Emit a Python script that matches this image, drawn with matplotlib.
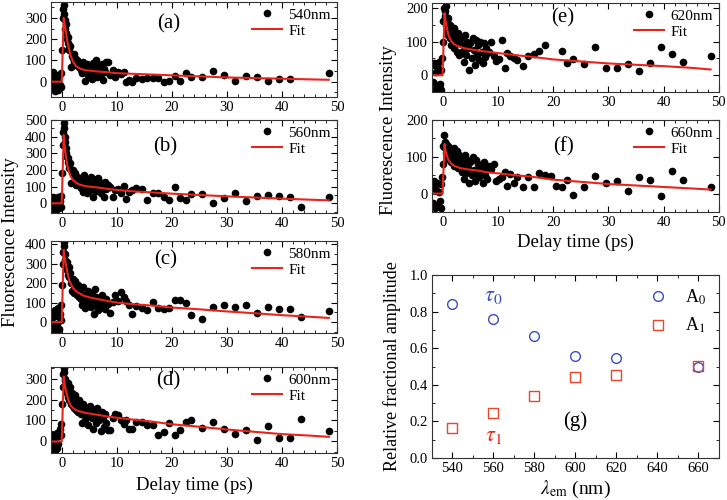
import numpy as np
import matplotlib
matplotlib.use('Agg')
import matplotlib.pyplot as plt
from matplotlib.ticker import MultipleLocator

plt.rcParams['font.family'] = ['Liberation Serif', 'DejaVu Serif']
plt.rcParams['mathtext.fontset'] = 'stix'

nan = np.nan

# delay times (ps), shared by all decay traces
t_early = [-1.9, -1.75, -1.6, -1.45, -1.3, -1.15, -1.0, -0.85, -0.7, -0.55, -0.4, -0.25, -0.1,
           0.0, 0.1, 0.2, 0.3, 0.4, 0.5, 0.6, 0.7, 0.8, 0.9, 1.0, 1.1, 1.2,
           1.35, 1.5, 1.65, 1.8, 1.95, 2.1, 2.25, 2.4, 2.55, 2.7, 2.85, 3.0,
           3.2, 3.4, 3.6, 3.8, 4.0, 4.2, 4.4, 4.6, 4.8, 5.0, 5.2, 5.4, 5.6, 5.8, 6.0,
           6.2, 6.4, 6.6, 6.8, 7.0, 7.2, 7.4, 7.6, 7.8, 8.0, 8.3]
t_late = [8.7, 9.2, 9.7, 10.2, 10.7, 11.2, 11.7, 12.2, 12.8, 13.5, 14.5, 15.5, 16.5, 17.5,
          18.5, 19.5, 20.5, 21.5, 22.5, 23.5, 25.5, 27.5, 29.5, 31.5, 33.5, 35.5, 37.5,
          39.5, 41.5, 43.5, 48.5]
t_fit = [-2, -0.05, 0.3, 0.5, 0.8, 1.0, 1.3, 1.6, 2.0, 2.5, 3.0, 4.0, 5.0, 6.5, 8, 10, 13, 16,
         20, 25, 30, 35, 40, 45, 48.5]

# 540 nm
a_early = [20, -30, 45, -10, -45, 30, -20, 10, -40, 25, -15, 40, -25,
           150, 300, 340, 360, 320, 290, 250, 270, 230, 200, 180, 210, 160,
           150, 170, 70, 120, 110, 130, 95, 110, 80, 100, 90, 70,
           80, 55, 40, 95, 60, 5, 45, 85, 30, 70, 50, 15, 90, 65, 40, 100, 20, 75, 55, 35,
           85, 10, 60, 45, 95, 95]
a_late = [30, 55, 20, 45, 35, 45, -3, 10, 0, 17, 15, 17, 17, 17, -3, 5, 28, 5, 40, 23, 23,
          52, 33, 5, 28, 20, 5, 11, 11, nan, 40]
a_fit = [0, 0, 300, 270, 220, 185, 150, 120, 95, 75, 65, 55, 52, 48, 45, 40, 37, 34, 30, 25,
         20, 17, 14, 11, 9]

# 560 nm
b_early = [30, -20, 40, -35, 10, -40, 25, -10, 35, -30, 15, -25, 45,
           180, 350, 430, 480, 450, 400, 370, 330, 300, 280, 250, 270, 230,
           210, 240, 120, 190, 200, 170, 130, 180, 110, 160, 140, 120,
           150, 90, 130, 70, 170, 100, 140, 60, 120, 80, 160, 95, 35, 110, 130, 75, 145,
           150, 100, 60, 120, 90, 40, 130, 85, 110]
b_late = [95, 40, 80, 85, 60, 105, 25, 70, 80, 90, 85, 20, 60, 60, 36, 20, 100, 30, 20, 56,
          56, 0, 30, 60, 16, 44, 50, 44, 36, -20, 40]
b_fit = [0, 0, 410, 340, 260, 220, 185, 160, 140, 125, 115, 105, 100, 95, 88, 80, 72, 66, 58,
         50, 42, 35, 28, 22, 18]

# 580 nm
c_early = [20, -40, 45, -20, 60, -45, 30, -10, 75, -35, 40, 10, 90,
           190, 300, 360, 410, 390, 350, 320, 300, 270, 310, 260, 240, 280,
           230, 250, 200, 160, 220, 190, 150, 210, 170, 140, 190, 130,
           160, 120, 90, 180, 140, 75, 130, 100, 160, 120, 80, 150, 110, 40, 170, 130, 90,
           60, 120, 100, 140, 80, 110, 70, 120, 95]
c_late = [47, 105, 140, 110, 155, 130, 107, 90, 44, 81, 73, 61, 105, 73, 68, 73, 112, 112, 98,
          36, 17, 76, 90, 76, 90, 47, 76, 68, 68, 27, 56]
c_fit = [0, 0, 370, 330, 280, 250, 215, 195, 175, 160, 150, 135, 127, 118, 110, 100, 92, 86,
         75, 66, 55, 46, 36, 28, 22]

# 600 nm
d_early = [10, -40, 30, -20, -45, 20, -30, 40, -10, 25, 60, 30, 85,
           180, 260, 320, 350, 330, 290, 300, 250, 270, 230, 280, 210, 240,
           200, 260, 180, 230, 170, 210, 160, 220, 150, 190, 140, 200,
           170, 130, 90, 180, 150, 100, 160, 120, 80, 170, 140, 110, 60, 150, 130, 90, 160,
           120, 100, 50, 140, 110, 70, 130, 90, 55]
d_late = [53, 110, 132, 124, 100, 85, 100, 61, 61, 93, 93, 77, 77, 33, 45, 88, 29, 57, 93, 104,
          64, 91, 61, 37, 57, 5, 73, 16, 18, 105, 49]
d_fit = [0, 0, 310, 270, 230, 210, 185, 170, 160, 150, 145, 138, 133, 127, 120, 113, 104, 96,
         82, 70, 57, 46, 35, 28, 22]

# 620 nm
e_early = [30, -20, 35, -40, 10, -30, 25, -35, 40, -25, 15, -45, 50,
           100, 160, 200, 190, 175, 205, 150, 160, 130, 170, 120, 140, 110,
           150, 90, 130, 110, 140, 80, 120, 100, 70, 125, 95, 60,
           110, 70, 90, 40, 120, 60, 100, 80, 15, 95, 50, 110, 75, 30, 105, 60, 90,
           45, 100, 70, 35, 95, 55, 80, 65, 70]
e_late = [100, 56, 42, 47, 105, 22, 66, 56, 51, 45, 27, 56, 63, 71, 90, nan, nan, 73, 37, 49,
          32, 83, 20, 22, 32, 13, 37, 83, 64, 39, 56]
e_fit = [0, 0, 185, 160, 135, 120, 108, 100, 93, 88, 85, 80, 77, 73, 70, 66, 60, 55, 47, 41,
         35, 31, 27, 22, 17]

# 660 nm
f_early = [20, -25, 35, -40, 10, -30, 30, -35, 5, -20, 25, -40, 45,
           80, 130, 160, 140, 125, 135, 110, 120, 100, 130, 95, 115, 105,
           120, 85, 110, 95, 125, 75, 100, 90, 115, 70, 105, 80,
           95, 60, 80, 40, 105, 55, 90, 70, 30, 85, 50, 100, 65, 35, 90, 55, 80,
           45, 75, 60, 30, 85, 50, 70, 40, 75]
f_late = [67, 81, 35, 39, 45, 58, 21, 53, 30, 45, 18, 44, 18, 55, 50, 49, 21, 18, 36, -3, 18,
          49, 28, 33, 8, 46, 36, -6, 61, 36, 19]
f_fit = [0, 0, 135, 115, 100, 92, 85, 80, 76, 73, 70, 67, 65, 62, 58, 55, 50, 46, 38, 32, 26,
         22, 18, 14, 11]

# panel (g): relative fractional amplitudes
wl = [540, 560, 580, 600, 620, 660]
A0 = [0.84, 0.76, 0.665, 0.56, 0.548, 0.497]
A1 = [0.165, 0.245, 0.34, 0.443, 0.455, 0.505]

RED = '#e8241c'


def style_axes(ax, ymajor, yminor, xmajor=10, xminor=2):
    ax.xaxis.set_major_locator(MultipleLocator(xmajor))
    ax.xaxis.set_minor_locator(MultipleLocator(xminor))
    ax.yaxis.set_major_locator(MultipleLocator(ymajor))
    ax.yaxis.set_minor_locator(MultipleLocator(yminor))
    ax.tick_params(which='both', direction='in', top=True, right=True, labelsize=10.5, pad=3)
    ax.tick_params(which='major', length=4)
    ax.tick_params(which='minor', length=2)
    for s in ax.spines.values():
        s.set_linewidth(0.8)
        s.set_color('#333333')


def decay_panel(rect, early, late, fit, name, tag, ylim, tag_pos):
    ax = fig.add_axes(rect)
    tt = t_early + t_late
    yy = early + late
    ax.plot(tt, yy, 'o', color='black', ms=4.5, mec='black', label=name)
    ax.plot(t_fit, fit, '-', color=RED, lw=1.5, label='Fit')
    ax.set_xlim(-2, 50)
    ax.set_ylim(*ylim)
    style_axes(ax, 100, 50)
    ax.text(tag_pos[0], tag_pos[1], tag, transform=ax.transAxes, fontsize=15,
            ha='center', va='center')
    ax.legend(loc='upper right', frameon=False, fontsize=11, handlelength=2.0,
              handletextpad=0.4, borderaxespad=0.2, labelspacing=0.15, borderpad=0.2)
    return ax


fig = plt.figure(figsize=(7.27, 5.0), dpi=100)

# left column
decay_panel([0.0702, 0.806, 0.3934, 0.19], a_early, a_late, a_fit, '540nm', '(a)', (-72, 375), (0.41, 0.77))
decay_panel([0.0702, 0.574, 0.3934, 0.186], b_early, b_late, b_fit, '560nm', '(b)', (-58, 500), (0.40, 0.71))
decay_panel([0.0702, 0.334, 0.3934, 0.184], c_early, c_late, c_fit, '580nm', '(c)', (-55, 415), (0.40, 0.79))
ax_d = decay_panel([0.0702, 0.094, 0.3934, 0.172], d_early, d_late, d_fit, '600nm', '(d)', (-55, 355), (0.41, 0.84))
ax_d.set_xlabel('Delay time (ps)', fontsize=13.5, labelpad=5)
fig.text(0.014, 0.516, 'Fluorescence Intensity', rotation=90, fontsize=13.5, ha='center', va='center')

# right column
decay_panel([0.594, 0.816, 0.3948, 0.178], e_early, e_late, e_fit, '620nm', '(e)', (-50, 215), (0.455, 0.83))
ax_f = decay_panel([0.594, 0.576, 0.3948, 0.184], f_early, f_late, f_fit, '660nm', '(f)', (-50, 200), (0.46, 0.71))
ax_f.set_xlabel('Delay time (ps)', fontsize=13.5, labelpad=3)
fig.text(0.534, 0.74, 'Fluorescence Intensity', rotation=90, fontsize=13.5, ha='center', va='center')

# panel (g)
ax_g = fig.add_axes([0.594, 0.084, 0.3948, 0.366])
ax_g.plot(wl, A0, 'o', mfc='none', mec='#3a4fbf', ms=7, mew=1.0, label='A$_0$')
ax_g.plot(wl, A1, 's', mfc='none', mec='#e8452c', ms=7, mew=1.0, label='A$_1$')
ax_g.set_xlim(530, 670)
ax_g.set_ylim(0, 1.0)
style_axes(ax_g, 0.2, 0.1, xmajor=20, xminor=10)
ax_g.yaxis.set_major_formatter(matplotlib.ticker.FormatStrFormatter('%.1f'))
ax_g.text(560, 0.88, r'$\tau_0$', color='#3a4fbf', fontsize=16, ha='center', va='center')
ax_g.text(560, 0.115, r'$\tau_1$', color='#e8241c', fontsize=16, ha='center', va='center')
ax_g.text(600, 0.2, '(g)', fontsize=15, ha='center', va='center')
ax_g.legend(loc='upper right', frameon=False, fontsize=13, handletextpad=0.5,
            borderaxespad=0.3, labelspacing=0.5)
ax_g.set_xlabel(r'$\lambda_{\rm em}$ (nm)', fontsize=14, labelpad=3)
ax_g.set_ylabel('Relative fractional amplitude', fontsize=13, labelpad=6)

plt.savefig('out.png', dpi=100)
